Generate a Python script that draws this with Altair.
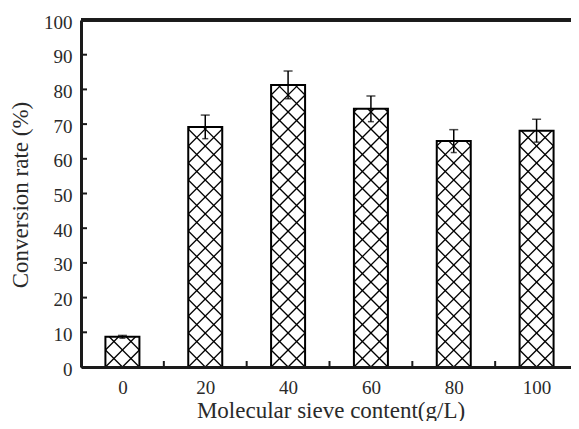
import altair as alt
import numpy as np
import pandas as pd

# ---- data ----
categories = ["0", "20", "40", "60", "80", "100"]
conversion = [8.7, 69.2, 81.3, 74.4, 65.1, 68.1]
errors = [0.4, 3.4, 4.0, 3.7, 3.3, 3.3]
y_ticks = [0, 10, 20, 30, 40, 50, 60, 70, 80, 90, 100]

# ---- layout / style constants ----
PLOT_W = 497
PLOT_H = 347
FONT = "Liberation Serif"
INK = "#1a1a1a"
TEXT = "#2a2a2a"
n = len(categories)
px_per_x = PLOT_W / n
px_per_y = PLOT_H / 100.0
BAR_PX = 34
HATCH_PX = 17
hw = BAR_PX / 2 / px_per_x
dy = HATCH_PX / px_per_y
slope = px_per_x / px_per_y

bars = pd.DataFrame({
    "idx": list(range(n)),
    "label": categories,
    "value": conversion,
    "err": errors,
})
bars["x0"] = bars["idx"] - hw
bars["x1"] = bars["idx"] + hw
bars["lo"] = bars["value"] - bars["err"]
bars["hi"] = bars["value"] + bars["err"]

# cross-hatch (diamond) fill lines, clipped to each bar
segs = []
for i, v in zip(range(n), conversion):
    kmin = int(np.floor(-(hw * slope) / dy)) - 1
    kmax = int(np.ceil((v + hw * slope) / dy)) + 1
    for k in range(kmin, kmax + 1):
        c = k * dy
        for m in (slope, -slope):
            t0 = (0 - c) / m + i
            t1 = (v - c) / m + i
            a = max(i - hw, min(t0, t1))
            b = min(i + hw, max(t0, t1))
            if b - a > 1e-9:
                segs.append({"x": a, "y": c + m * (a - i), "x2": b, "y2": c + m * (b - i)})
hatch = pd.DataFrame(segs)

bounds = pd.DataFrame({"b": [k + 0.5 for k in range(n - 1)]})
yt = pd.DataFrame({"t": y_ticks})

xs = alt.Scale(domain=[-0.5, n - 0.5], nice=False, zero=False)
ys = alt.Scale(domain=[0, 100], nice=False, zero=True)

label_expr = "[" + ",".join("'%s'" % c for c in categories) + "][datum.value]"

x_axis = alt.Axis(
    values=list(range(n)), labelExpr=label_expr, ticks=False, tickSize=0,
    domainWidth=3, domainColor=INK, labelFont=FONT, labelFontSize=19,
    labelColor=TEXT, labelPadding=11, labelBaseline="top", grid=False,
    title="Molecular sieve content(g/L)", titleFont=FONT, titleFontSize=23,
    titleFontWeight="normal", titleColor=TEXT, titleX=PLOT_W / 2 + 1, titleY=50,
    titleBaseline="alphabetic", titleAlign="center", zindex=1,
)
y_axis = alt.Axis(
    values=y_ticks, ticks=False, tickSize=0, domainWidth=3, domainColor=INK,
    labelFont=FONT, labelFontSize=19, labelColor=TEXT, labelPadding=9,
    labelOffset=2, grid=False,
    title="Conversion rate (%)", titleFont=FONT, titleFontSize=23,
    titleFontWeight="normal", titleColor=TEXT, titleX=-54, titleY=PLOT_H / 2 + 1,
    titleBaseline="alphabetic", titleAlign="center", titleAngle=270, zindex=1,
)


def X(field):
    return alt.X(field, scale=xs, axis=x_axis)


def Y(field):
    return alt.Y(field, scale=ys, axis=y_axis)


hatch_layer = alt.Chart(hatch).mark_rule(color="black", strokeWidth=1.3).encode(
    x=X("x:Q"), x2="x2:Q", y=Y("y:Q"), y2="y2:Q",
)

outline = alt.Chart(bars).mark_rect(fillOpacity=0, stroke="black", strokeWidth=2).encode(
    x=X("x0:Q"), x2="x1:Q", y=Y("value:Q"), y2=alt.datum(0),
)

err_line = alt.Chart(bars).mark_rule(color="black", strokeWidth=1.5).encode(
    x=X("idx:Q"), y=Y("lo:Q"), y2="hi:Q",
)
cap_top = alt.Chart(bars).mark_tick(color="black", orient="horizontal", size=9, thickness=1.5).encode(
    x=X("idx:Q"), y=Y("hi:Q"),
)
cap_bot = alt.Chart(bars).mark_tick(color="black", orient="horizontal", size=6, thickness=1.5).encode(
    x=X("idx:Q"), y=Y("lo:Q"),
)

x_ticks = alt.Chart(bounds).mark_rule(color=INK, strokeWidth=2).encode(
    x=X("b:Q"),
    y=alt.value(PLOT_H),
    y2=alt.value(PLOT_H - 6),
)
y_tick_marks = alt.Chart(yt).mark_rule(color=INK, strokeWidth=2).encode(
    y=Y("t:Q"),
    x=alt.value(0),
    x2=alt.value(6),
)
top_border = alt.Chart(bars).mark_rule(color=INK, strokeWidth=3).encode(
    y=alt.value(0),
    x=alt.value(0),
    x2=alt.value(PLOT_W),
)

chart = alt.layer(
    hatch_layer, outline, err_line, cap_top, cap_bot, x_ticks, y_tick_marks, top_border
).properties(
    width=PLOT_W,
    height=PLOT_H,
    padding={"left": 73, "top": 12, "right": -7, "bottom": 54},
    autosize=alt.AutoSizeParams(type="none"),
).configure_view(
    stroke="#999999", strokeWidth=1
).configure(background="white")

chart.save("out.html", embed_options={"renderer": "svg", "actions": False})
